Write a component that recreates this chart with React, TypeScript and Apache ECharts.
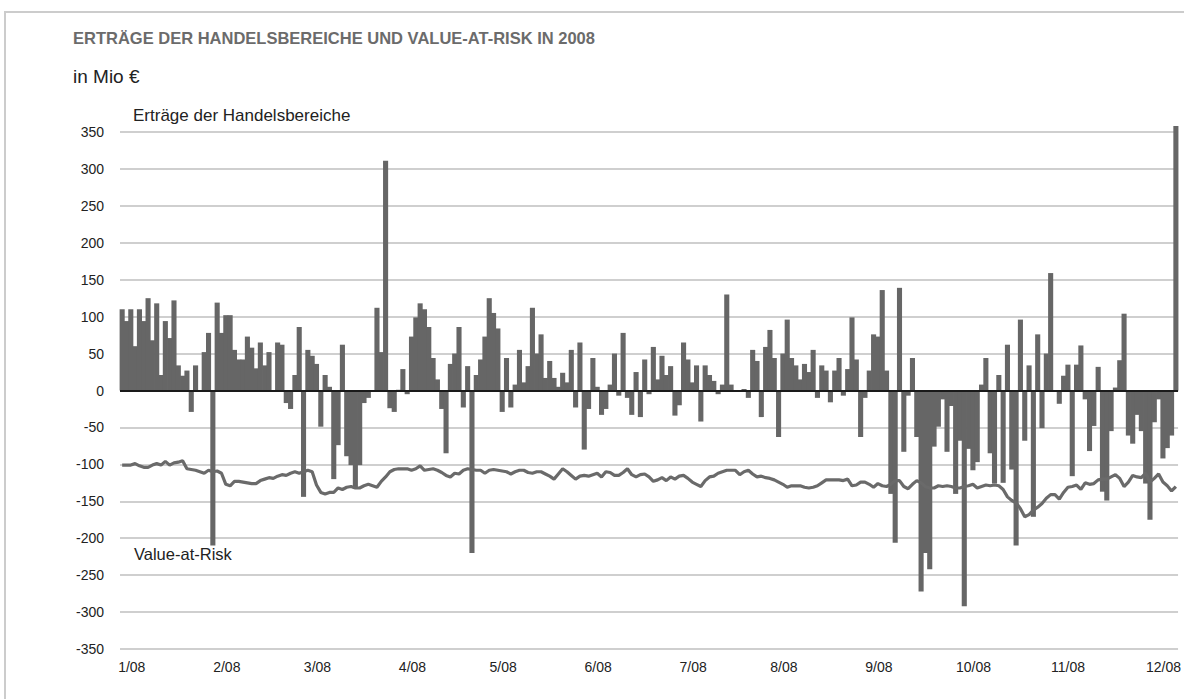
import React, { useEffect, useRef } from "react";
import * as echarts from "echarts";

// Trading-day results of the trading divisions (in Mio €), read left to right
const ertraegeJan = [110, 94, 110, 60, 110, 94, 125, 68, 118, 21, 94, 71, 122, 34, 20, 27, -29, 34, -1, 52, 78,
  -210, 119, 78, 102, 102, 55, 42, 42, 73, 58, 30, 65, 34, 52, -2, 65, 62];
const ertraegeMar = [-17, -25, 21, 86, -144, 55, 47, 36, -49, 21, 5, -120, -74, 62, -89, -101, -133, -101, -17, -10,
  0, 112, 52, 311, -24, -29, 1, 29, -5, 73, 99, 118, 110, 86, 44, 15, -25, -85, 36, 50, 86];
const ertraegeMay = [-23, 33, -220, 21, 42, 73, 125, 105, 84, -29, 44, -23, 8, 55, 11, 33, 112, 50, 76, 17, 40, 17,
  5, 24, 11, 55, -23, 65, -80, -25, 44, 5, -33, -25, 8, 50, -7, 78, -10, -33];
const ertraegeJul = [25, -36, 42, -5, 59, 15, 47, 21, 33, -34, -20, 65, 42, 11, 34, -42, 34, 21, 13, -5, 8, 130, 8,
  -2, -2, 2, -10, 55, 40, -36, 59, 82, 44, -63, 50, 96, 44, 34, 15, 36];
const ertraegeSep = [25, 55, -10, 34, 27, -16, 27, 44, -7, 29, 99, 42, -63, -10, 27, 76, 73, 136, 27, -140, -206, 139,
  -83, -7, 44, -63, -272, -220, -242, -76, -49, -12, -83, -21, -140, -68, -292, -79, -108, -97, 8];
const ertraegeOct = [44, -85, -126, 21, -125, 62, -107, -210, 96, -68, 34, -171, 76, -51, 50, 159, 0, -18, 20, 35,
  -116, 35, 61, -12, -82, -48, 32, -137, -149, -55, 4, 41, 104, -61, -72, -33, -55, -126, -175, -43, -12, -92, -78,
  -61, 358];

// Value-at-Risk per trading day (in Mio €)
const varJan = [-101, -101, -101, -99, -102, -104, -104, -101, -99, -101, -96, -101, -98, -97, -95, -106, -107, -108,
  -110, -112, -108, -110, -109, -112, -127, -129, -123, -123, -124, -125, -126, -126, -122, -120, -118, -119, -116, -114];
const varMar = [-115, -112, -110, -112, -110, -108, -110, -128, -138, -140, -138, -138, -132, -134, -131, -130, -132,
  -132, -129, -127, -129, -131, -123, -117, -110, -107, -106, -106, -106, -108, -106, -102, -108, -107, -106, -108,
  -111, -115, -117, -112, -113];
const varMay = [-108, -106, -107, -108, -108, -112, -108, -107, -108, -109, -110, -113, -110, -108, -108, -111, -112,
  -110, -110, -113, -116, -120, -113, -106, -110, -115, -120, -116, -115, -116, -114, -112, -117, -110, -111, -115,
  -115, -111, -106, -114];
const varJul = [-117, -114, -113, -117, -123, -121, -118, -122, -117, -120, -116, -115, -119, -124, -127, -130, -122,
  -117, -116, -112, -110, -108, -108, -108, -114, -110, -108, -113, -117, -116, -118, -119, -121, -124, -127, -131,
  -129, -129, -129, -131];
const varSep = [-132, -131, -129, -125, -121, -121, -121, -121, -122, -120, -129, -128, -124, -124, -127, -131, -126,
  -129, -130, -127, -122, -122, -130, -133, -127, -122, -125, -130, -132, -132, -129, -130, -129, -130, -132, -132,
  -130, -129, -127, -132, -130];
const varOct = [-128, -129, -128, -129, -134, -144, -149, -152, -160, -171, -168, -162, -158, -153, -146, -141, -141,
  -147, -138, -131, -130, -128, -134, -125, -127, -126, -121, -120, -120, -117, -114, -119, -130, -124, -115, -117,
  -118, -112, -124, -119, -113, -124, -129, -136, -130];

const monthLabels = ["1/08", "2/08", "3/08", "4/08", "5/08", "6/08", "7/08", "8/08", "9/08", "10/08", "11/08", "12/08"];
const monthStartIdx = [0, 22, 43, 65, 86, 108, 130, 151, 173, 194, 216, 238];

const yTicks = { min: -350, max: 350, interval: 50 };

export default function App() {
  const ref = useRef<HTMLDivElement>(null);

  useEffect(() => {
    if (!ref.current) return;
    const chart = echarts.init(ref.current, undefined, { renderer: "svg" });

    const ertraege = [...ertraegeJan, ...ertraegeMar, ...ertraegeMay, ...ertraegeJul, ...ertraegeSep, ...ertraegeOct];
    const valueAtRisk = [...varJan, ...varMar, ...varMay, ...varJul, ...varSep, ...varOct];
    const categories = ertraege.map((_, i) => {
      const m = monthStartIdx.indexOf(i);
      return m >= 0 ? monthLabels[m] : "";
    });

    const font = "Liberation Sans, Arial, Helvetica, sans-serif";

    chart.setOption({
      animation: false,
      backgroundColor: "#ffffff",
      textStyle: { fontFamily: font },
      grid: { left: 120, right: 0, top: 132, bottom: 50, containLabel: false },
      xAxis: {
        type: "category",
        data: categories,
        boundaryGap: true,
        axisLine: { show: false },
        axisTick: { show: false },
        splitLine: { show: false },
        axisLabel: {
          interval: (_idx: number, val: string) => val !== "",
          align: "left",
          margin: 11,
          padding: [0, 0, 0, -4],
          color: "#222222",
          fontSize: 14,
          fontFamily: font,
        },
      },
      yAxis: {
        type: "value",
        min: yTicks.min,
        max: yTicks.max,
        interval: yTicks.interval,
        axisLine: { show: false },
        axisTick: { show: false },
        axisLabel: { color: "#222222", fontSize: 14, margin: 16, fontFamily: font },
        splitLine: { show: true, lineStyle: { color: "#cfcfcf", width: 2 } },
      },
      graphic: [
        {
          type: "rect",
          silent: true,
          z: -10,
          shape: { x: 5, y: 12, width: 1300, height: 800 },
          style: { fill: "none", stroke: "#cccccc", lineWidth: 2 },
        },
        {
          type: "text",
          x: 73,
          y: 38,
          style: {
            text: "ERTRÄGE DER HANDELSBEREICHE UND VALUE-AT-RISK IN 2008",
            font: `bold 16.5px ${font}`,
            fill: "#6b6b6b",
            verticalAlign: "middle",
          },
        },
        {
          type: "text",
          x: 73,
          y: 76,
          style: { text: "in Mio €", font: `19px ${font}`, fill: "#222222", verticalAlign: "middle" },
        },
        {
          type: "text",
          x: 133,
          y: 115,
          style: { text: "Erträge der Handelsbereiche", font: `17px ${font}`, fill: "#222222", verticalAlign: "middle" },
        },
        {
          type: "text",
          x: 134,
          y: 554,
          z: 100,
          style: { text: "Value-at-Risk", font: `16.5px ${font}`, fill: "#222222", verticalAlign: "middle" },
        },
      ],
      series: [
        {
          name: "Erträge der Handelsbereiche",
          type: "bar",
          data: ertraege,
          barWidth: "118%",
          barGap: "0%",
          clip: false,
          itemStyle: { color: "#666666" },
          z: 2,
          markLine: {
            silent: true,
            symbol: ["none", "none"],
            label: { show: false },
            lineStyle: { color: "#1a1a1a", width: 2, type: "solid" },
            data: [{ yAxis: 0 }],
          },
        },
        {
          name: "Value-at-Risk",
          type: "line",
          data: valueAtRisk,
          symbol: "none",
          lineStyle: { color: "#6a6a6a", width: 3.2 },
          z: 5,
        },
      ],
    });

    return () => chart.dispose();
  }, []);

  return (
    <div
      ref={ref}
      style={{ position: "fixed", left: 0, top: 0, width: 1184, height: 699 }}
    />
  );
}
